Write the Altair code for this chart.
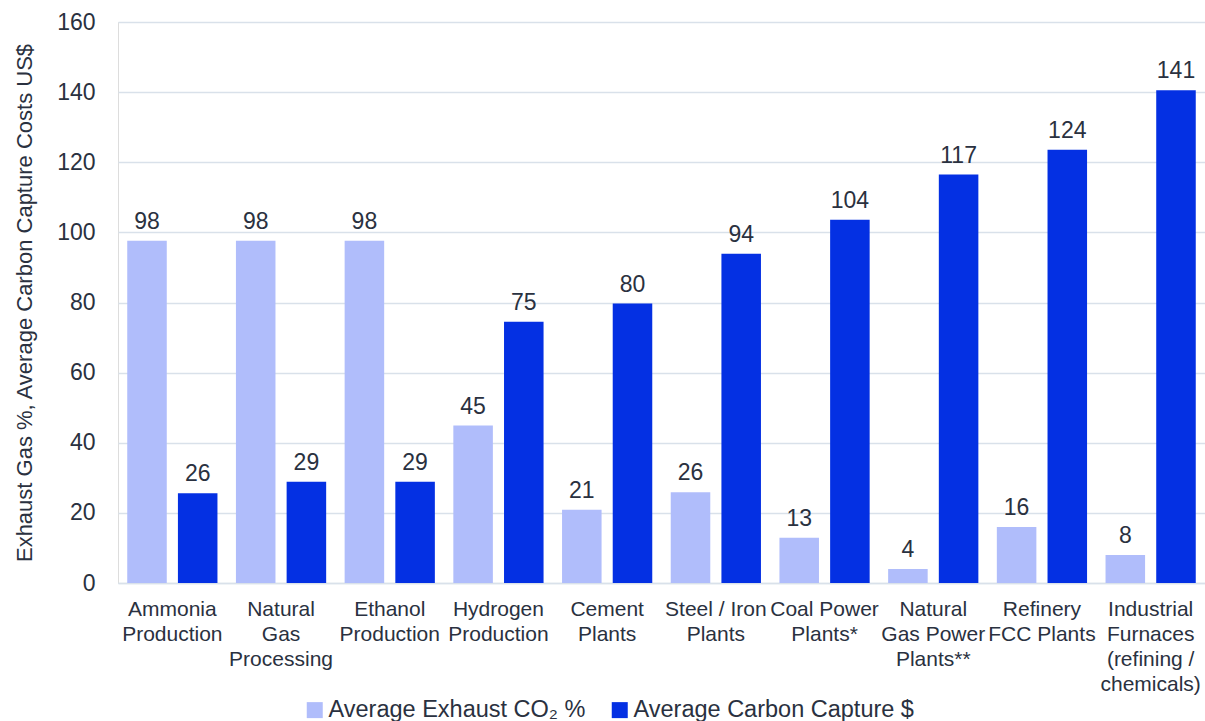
import altair as alt
import pandas as pd

categories = [
    "Ammonia|Production",
    "Natural|Gas|Processing",
    "Ethanol|Production",
    "Hydrogen|Production",
    "Cement|Plants",
    "Steel / Iron|Plants",
    "Coal Power|Plants*",
    "Natural|Gas Power|Plants**",
    "Refinery|FCC Plants",
    "Industrial|Furnaces|(refining /|chemicals)",
]
exhaust_co2 = [97.6, 97.6, 97.6, 44.9, 20.9, 25.9, 12.9, 4.0, 16.0, 8.0]
capture_cost = [25.6, 28.9, 28.9, 74.5, 79.7, 93.9, 103.6, 116.5, 123.6, 140.5]
series = ["Average Exhaust CO\u2082 %", "Average Carbon Capture $"]
colors = ["#b0bdfb", "#0430e3"]

rows = []
for i, c in enumerate(categories):
    rows.append({"cat": c, "series": series[0], "value": exhaust_co2[i]})
    rows.append({"cat": c, "series": series[1], "value": capture_cost[i]})
df = pd.DataFrame(rows)

FONT = "Liberation Sans"
TXT = "#2a3140"
GRID = "#d9e1ea"

x = alt.X(
    "cat:N",
    sort=categories,
    scale=alt.Scale(paddingInner=0.17, paddingOuter=0.085),
    axis=alt.Axis(
        title=None,
        labelAngle=0,
        labelExpr="split(datum.label, '|')",
        labelLineHeight=25,
        labelFontSize=21,
        labelPadding=15,
        labelColor=TXT,
        labelFont=FONT,
        ticks=False,
        domainColor=GRID,
        domainWidth=1.5,
        labelLimit=200,
    ),
)
xo = alt.XOffset("series:N", sort=series, scale=alt.Scale(paddingInner=0.22, paddingOuter=0))
y = alt.Y(
    "value:Q",
    scale=alt.Scale(domain=[0, 160]),
    axis=alt.Axis(
        title="Exhaust Gas %, Average Carbon Capture Costs US$",
        titleFontSize=22,
        titleFont=FONT,
        titleFontWeight="normal",
        titleColor=TXT,
        titlePadding=20,
        values=[0, 20, 40, 60, 80, 100, 120, 140, 160],
        labelFontSize=23,
        labelFont=FONT,
        labelColor=TXT,
        labelPadding=23,
        ticks=False,
        domain=False,
        gridColor=GRID,
        gridWidth=1.5,
    ),
)
color = alt.Color(
    "series:N",
    sort=series,
    scale=alt.Scale(domain=series, range=colors),
    legend=alt.Legend(
        title=None,
        orient="none",
        legendX=185,
        legendY=676,
        direction="horizontal",
        symbolType="square",
        symbolSize=256,
        symbolStrokeWidth=0,
        labelFontSize=23.5,
        labelFont=FONT,
        labelColor=TXT,
        labelOffset=2,
        columnPadding=22,
        labelLimit=400,
    ),
)

base = alt.Chart(df)
bars = base.mark_bar().encode(x=x, xOffset=xo, y=y, color=color)
labels = base.mark_text(
    baseline="alphabetic", dy=-12, fontSize=23, font=FONT, color=TXT
).encode(
    x=alt.X("cat:N", sort=categories),
    xOffset=alt.XOffset("series:N", sort=series),
    y="value:Q",
    text=alt.Text("value:Q", format=".0f"),
)

chart = (
    alt.layer(bars, labels)
    .properties(
        width=1087,
        height=561,
        autosize=alt.AutoSizeParams(type="none"),
        padding={"left": 118, "top": 22, "right": 0, "bottom": 138},
    )
    .configure_view(stroke=None)
    .configure(background="white")
)

chart.save("out.html", embed_options={"renderer": "svg", "actions": False})
